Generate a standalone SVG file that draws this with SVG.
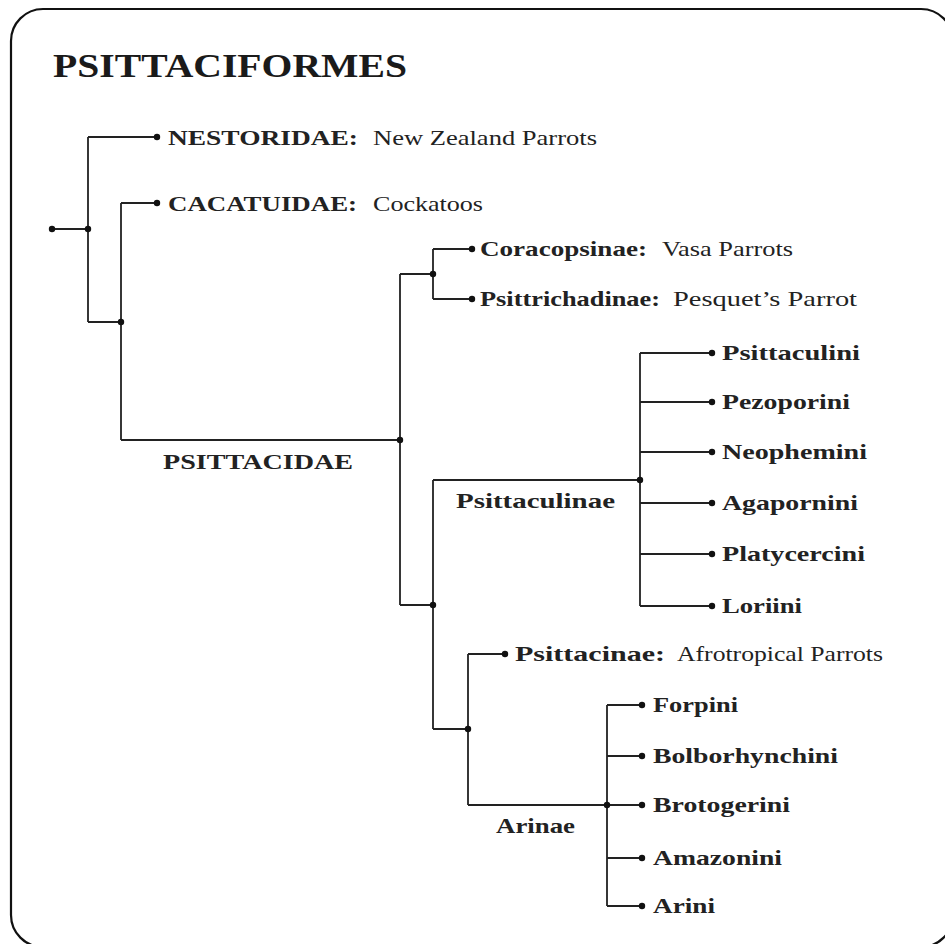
<svg xmlns="http://www.w3.org/2000/svg" width="945" height="944" viewBox="0 0 945 944">
<style>
.frame{fill:#fff;stroke:#111;stroke-width:2.2}
.ln{fill:none;stroke:#222;stroke-width:1.8}
.dot{fill:#111}
text{font-family:"Liberation Serif","Times New Roman",serif;fill:#222}
.b{font-weight:bold;font-size:21px}
.r{font-size:21px}
.title{font-weight:bold;font-size:34px;fill:#1a1a1a}
</style>
<rect x="0" y="0" width="945" height="944" fill="#fff"/>
<rect class="frame" x="11" y="9" width="942" height="938" rx="32" ry="32"/>
<text class="title" x="53" y="77" textLength="354" lengthAdjust="spacingAndGlyphs">PSITTACIFORMES</text>
<g id="connectors">
<path class="ln" d="M52 229H88M88 137V322M88 137H157M88 322H121M121 203V440M121 203H157M121 440H400M400 274V605M400 274H433M433 249V299M433 249H472M433 299H472M400 605H433M433 480V729M433 480H640M640 353V606M640 353H712M640 402H712M640 452H712M640 503H712M640 554H712M640 606H712M433 729H468M468 654V805M468 654H505M468 805H607M607 705V906M607 705H642M607 756H642M607 805H642M607 858H642M607 906H642"/>
<g class="dot">
<circle cx="52" cy="229" r="3.2"/><circle cx="88" cy="229" r="3.2"/><circle cx="121" cy="322" r="3.2"/><circle cx="400" cy="440" r="3.2"/><circle cx="433" cy="274" r="3.2"/><circle cx="433" cy="605" r="3.2"/><circle cx="640" cy="480" r="3.2"/><circle cx="468" cy="729" r="3.2"/><circle cx="607" cy="805" r="3.2"/>
</g>
</g>
<g id="nestoridae"><circle class="dot" cx="157" cy="137" r="3.2"/><text class="b" x="168" y="145" textLength="190" lengthAdjust="spacingAndGlyphs">NESTORIDAE:</text><text class="r" x="373" y="145" textLength="224" lengthAdjust="spacingAndGlyphs">New Zealand Parrots</text></g>
<g id="cacatuidae"><circle class="dot" cx="157" cy="203" r="3.2"/><text class="b" x="168" y="211" textLength="189" lengthAdjust="spacingAndGlyphs">CACATUIDAE:</text><text class="r" x="373" y="211" textLength="110" lengthAdjust="spacingAndGlyphs">Cockatoos</text></g>
<g id="psittacidae"><text class="b" x="163" y="469" textLength="190" lengthAdjust="spacingAndGlyphs">PSITTACIDAE</text></g>
<g id="coracopsinae"><circle class="dot" cx="472" cy="249" r="3.2"/><text class="b" x="480" y="256" textLength="167" lengthAdjust="spacingAndGlyphs">Coracopsinae:</text><text class="r" x="662" y="256" textLength="131" lengthAdjust="spacingAndGlyphs">Vasa Parrots</text></g>
<g id="psittrichadinae"><circle class="dot" cx="472" cy="299" r="3.2"/><text class="b" x="480" y="306" textLength="180" lengthAdjust="spacingAndGlyphs">Psittrichadinae:</text><text class="r" x="673" y="306" textLength="184" lengthAdjust="spacingAndGlyphs">Pesquet’s Parrot</text></g>
<g id="psittaculinae"><text class="b" x="456" y="508" textLength="159" lengthAdjust="spacingAndGlyphs">Psittaculinae</text></g>
<g id="psittaculini"><circle class="dot" cx="712" cy="353" r="3.2"/><text class="b" x="722" y="360" textLength="138" lengthAdjust="spacingAndGlyphs">Psittaculini</text></g>
<g id="pezoporini"><circle class="dot" cx="712" cy="402" r="3.2"/><text class="b" x="722" y="409" textLength="128" lengthAdjust="spacingAndGlyphs">Pezoporini</text></g>
<g id="neophemini"><circle class="dot" cx="712" cy="452" r="3.2"/><text class="b" x="722" y="459" textLength="145" lengthAdjust="spacingAndGlyphs">Neophemini</text></g>
<g id="agapornini"><circle class="dot" cx="712" cy="503" r="3.2"/><text class="b" x="722" y="510" textLength="136" lengthAdjust="spacingAndGlyphs">Agapornini</text></g>
<g id="platycercini"><circle class="dot" cx="712" cy="554" r="3.2"/><text class="b" x="722" y="561" textLength="143" lengthAdjust="spacingAndGlyphs">Platycercini</text></g>
<g id="loriini"><circle class="dot" cx="712" cy="606" r="3.2"/><text class="b" x="722" y="613" textLength="80" lengthAdjust="spacingAndGlyphs">Loriini</text></g>
<g id="psittacinae"><circle class="dot" cx="505" cy="654" r="3.2"/><text class="b" x="515" y="661" textLength="150" lengthAdjust="spacingAndGlyphs">Psittacinae:</text><text class="r" x="677" y="661" textLength="206" lengthAdjust="spacingAndGlyphs">Afrotropical Parrots</text></g>
<g id="arinae"><text class="b" x="496" y="833" textLength="79" lengthAdjust="spacingAndGlyphs">Arinae</text></g>
<g id="forpini"><circle class="dot" cx="642" cy="705" r="3.2"/><text class="b" x="653" y="712" textLength="85" lengthAdjust="spacingAndGlyphs">Forpini</text></g>
<g id="bolborhynchini"><circle class="dot" cx="642" cy="756" r="3.2"/><text class="b" x="653" y="763" textLength="185" lengthAdjust="spacingAndGlyphs">Bolborhynchini</text></g>
<g id="brotogerini"><circle class="dot" cx="642" cy="805" r="3.2"/><text class="b" x="653" y="812" textLength="137" lengthAdjust="spacingAndGlyphs">Brotogerini</text></g>
<g id="amazonini"><circle class="dot" cx="642" cy="858" r="3.2"/><text class="b" x="653" y="865" textLength="129" lengthAdjust="spacingAndGlyphs">Amazonini</text></g>
<g id="arini"><circle class="dot" cx="642" cy="906" r="3.2"/><text class="b" x="653" y="913" textLength="62" lengthAdjust="spacingAndGlyphs">Arini</text></g>
</svg>
